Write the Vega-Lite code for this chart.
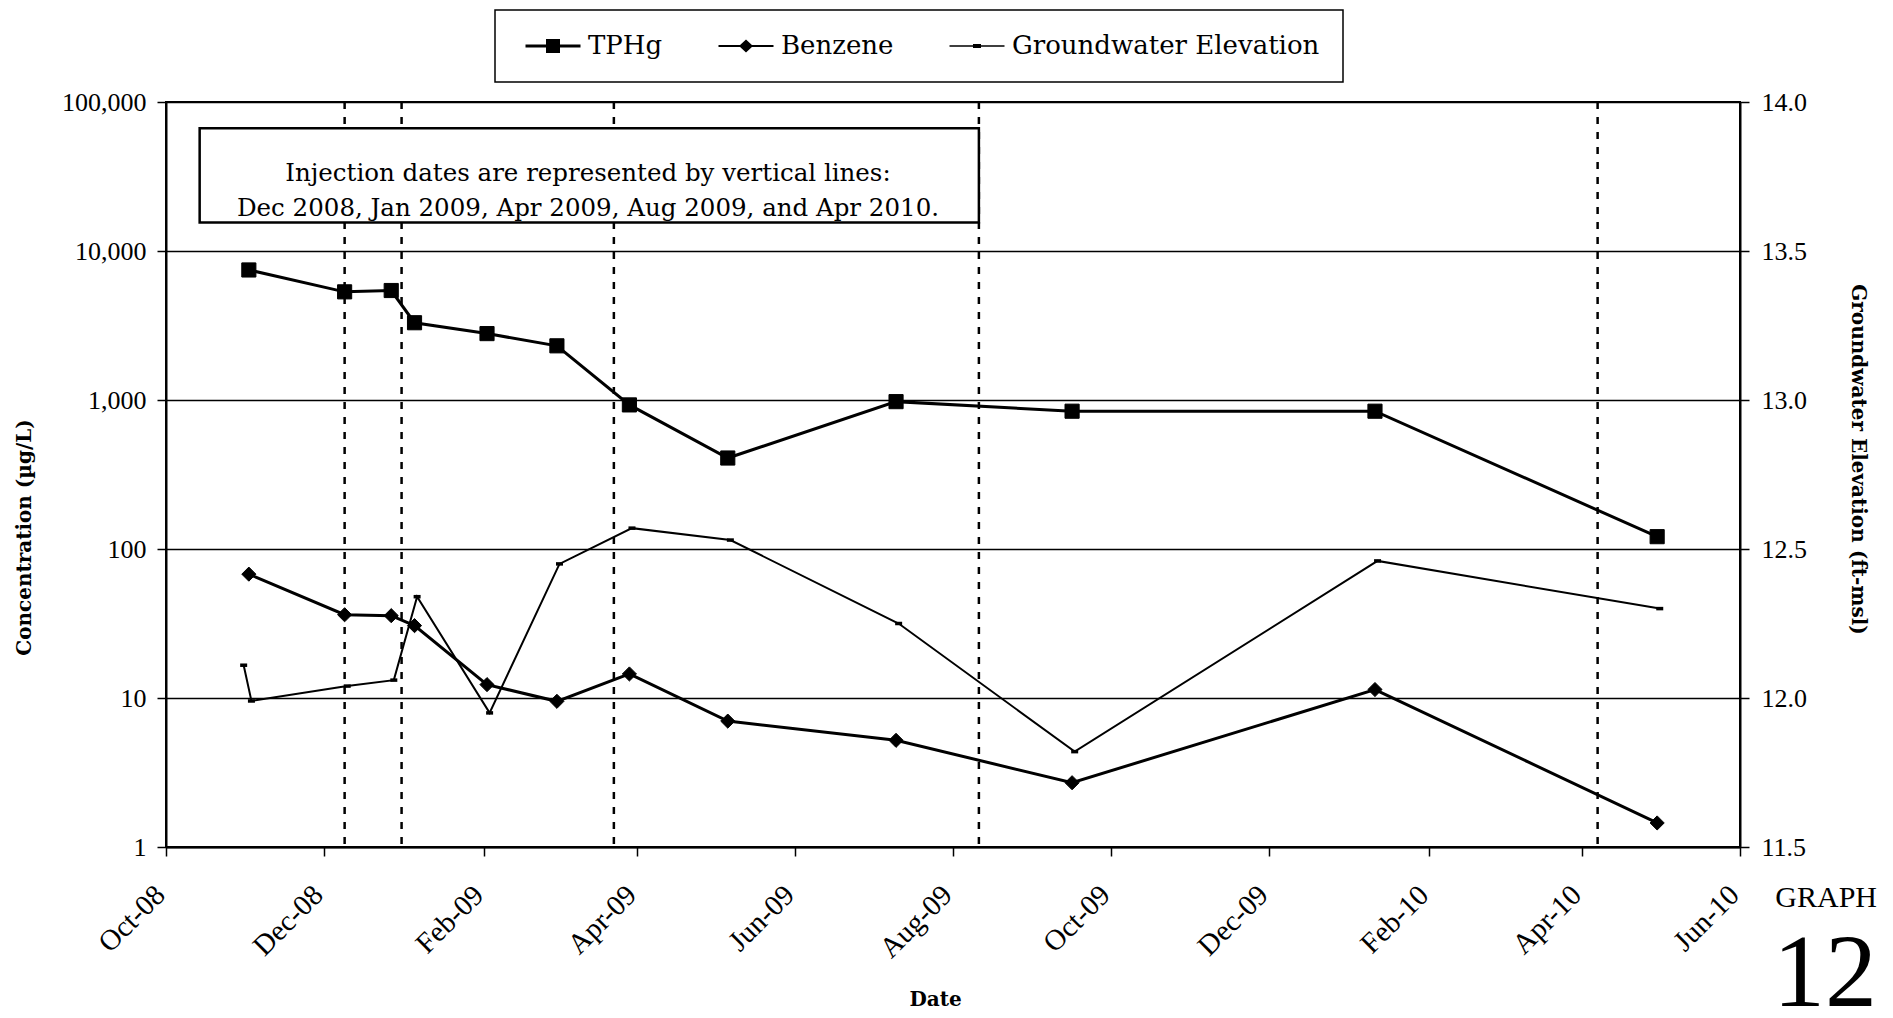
{
  "$schema": "https://vega.github.io/schema/vega-lite/v6.json",
  "width": 1574,
  "height": 745,
  "autosize": {"type": "none"},
  "padding": {"left": 166, "top": 102, "right": 153, "bottom": 171},
  "background": "white",
  "title": {
    "text": "GRAPH",
    "subtitle": "12",
    "orient": "bottom",
    "anchor": "end",
    "frame": "bounds",
    "offset": -126,
    "dx": 10,
    "font": "Liberation Serif",
    "fontSize": 30,
    "fontWeight": "normal",
    "color": "black",
    "subtitleFont": "Liberation Serif",
    "subtitleFontSize": 104,
    "subtitleColor": "black",
    "subtitlePadding": 11
  },
  "config": {
    "view": {"stroke": "black", "strokeWidth": 2},
    "axis": {
      "domainColor": "black",
      "domainWidth": 2,
      "tickColor": "black",
      "tickWidth": 1.5,
      "tickSize": 9,
      "labelColor": "black",
      "labelFont": "Liberation Serif",
      "labelFontSize": 26,
      "titleColor": "black",
      "titleFont": "DejaVu Serif",
      "titleFontSize": 20,
      "titleFontWeight": "bold",
      "gridColor": "black",
      "gridWidth": 1.5,
      "gridOpacity": 1
    },
    "axisX": {
      "labelExpr": "utcFormat(datum.value, '%b-%y')",
      "labelFontSize": 29,
      "labelAngle": -45,
      "labelAlign": "right",
      "labelBaseline": "middle",
      "labelPadding": 34,
      "labelOffset": -6,
      "labelFlush": false,
      "labelOverlap": false,
      "grid": false,
      "titleX": 769,
      "titleY": 142
    },
    "legend": {"strokeWidth": 1.5}
  },
  "datasets": {
    "conc": [
      {"date": "2008-11-02", "series": "TPHg", "value": 7460},
      {"date": "2008-12-09", "series": "TPHg", "value": 5320},
      {"date": "2008-12-27", "series": "TPHg", "value": 5430},
      {"date": "2009-01-05", "series": "TPHg", "value": 3300},
      {"date": "2009-02-02", "series": "TPHg", "value": 2790},
      {"date": "2009-03-01", "series": "TPHg", "value": 2310},
      {"date": "2009-03-29", "series": "TPHg", "value": 927},
      {"date": "2009-05-06", "series": "TPHg", "value": 408},
      {"date": "2009-07-10", "series": "TPHg", "value": 975},
      {"date": "2009-09-16", "series": "TPHg", "value": 841},
      {"date": "2010-01-11", "series": "TPHg", "value": 841},
      {"date": "2010-04-30", "series": "TPHg", "value": 121},
      {"date": "2008-11-02", "series": "Benzene", "value": 67.8},
      {"date": "2008-12-09", "series": "Benzene", "value": 36.2},
      {"date": "2008-12-27", "series": "Benzene", "value": 35.7},
      {"date": "2009-01-05", "series": "Benzene", "value": 30.6},
      {"date": "2009-02-02", "series": "Benzene", "value": 12.3},
      {"date": "2009-03-01", "series": "Benzene", "value": 9.5},
      {"date": "2009-03-29", "series": "Benzene", "value": 14.5},
      {"date": "2009-05-06", "series": "Benzene", "value": 7.0},
      {"date": "2009-07-10", "series": "Benzene", "value": 5.2},
      {"date": "2009-09-16", "series": "Benzene", "value": 2.7},
      {"date": "2010-01-11", "series": "Benzene", "value": 11.4},
      {"date": "2010-04-30", "series": "Benzene", "value": 1.45}
    ],
    "gw": [
      {"date": "2008-10-31", "elev": 12.11},
      {"date": "2008-11-03", "elev": 11.99},
      {"date": "2008-12-10", "elev": 12.04},
      {"date": "2008-12-28", "elev": 12.06},
      {"date": "2009-01-06", "elev": 12.34},
      {"date": "2009-02-03", "elev": 11.95},
      {"date": "2009-03-02", "elev": 12.45},
      {"date": "2009-03-30", "elev": 12.57},
      {"date": "2009-05-07", "elev": 12.53},
      {"date": "2009-07-11", "elev": 12.25},
      {"date": "2009-09-17", "elev": 11.82},
      {"date": "2010-01-12", "elev": 12.46},
      {"date": "2010-05-01", "elev": 12.30}
    ],
    "injections": [
      {"date": "2008-12-09"},
      {"date": "2008-12-31"},
      {"date": "2009-03-23"},
      {"date": "2009-08-11"},
      {"date": "2010-04-07"}
    ],
    "note": [
      {
        "start": "2008-10-14",
        "end": "2009-08-11",
        "mid": "2009-03-13",
        "top": 66700,
        "bottom": 15530,
        "ymid": 32950,
        "label": [
          "Injection dates are represented by vertical lines:",
          "Dec 2008, Jan 2009, Apr 2009, Aug 2009, and Apr 2010."
        ]
      }
    ],
    "legend": [
      {"series": "TPHg"},
      {"series": "Benzene"},
      {"series": "Groundwater Elevation"}
    ]
  },
  "layer": [
    {
      "layer": [
        {
          "data": {"name": "injections"},
          "mark": {"type": "rule", "color": "black", "strokeWidth": 2.5, "strokeDash": [7, 8]},
          "encoding": {
            "x": {
              "field": "date",
              "type": "temporal",
              "title": "Date",
              "scale": {"type": "utc", "nice": false, "domain": [{"year": 2008, "month": 10, "date": 1, "utc": true}, {"year": 2010, "month": 6, "date": 1, "utc": true}]},
              "axis": {"values": [
                {"year": 2008, "month": 10, "date": 1, "utc": true},
                {"year": 2008, "month": 12, "date": 1, "utc": true},
                {"year": 2009, "month": 2, "date": 1, "utc": true},
                {"year": 2009, "month": 4, "date": 1, "utc": true},
                {"year": 2009, "month": 6, "date": 1, "utc": true},
                {"year": 2009, "month": 8, "date": 1, "utc": true},
                {"year": 2009, "month": 10, "date": 1, "utc": true},
                {"year": 2009, "month": 12, "date": 1, "utc": true},
                {"year": 2010, "month": 2, "date": 1, "utc": true},
                {"year": 2010, "month": 4, "date": 1, "utc": true},
                {"year": 2010, "month": 6, "date": 1, "utc": true}
              ]}
            }
          }
        },
        {
          "data": {"name": "note"},
          "mark": {"type": "rect", "fill": "white", "stroke": "black", "strokeWidth": 2.5},
          "encoding": {
            "x": {
              "field": "start",
              "type": "temporal",
              "title": "Date",
              "scale": {"type": "utc", "nice": false, "domain": [{"year": 2008, "month": 10, "date": 1, "utc": true}, {"year": 2010, "month": 6, "date": 1, "utc": true}]},
              "axis": {"values": [
                {"year": 2008, "month": 10, "date": 1, "utc": true},
                {"year": 2008, "month": 12, "date": 1, "utc": true},
                {"year": 2009, "month": 2, "date": 1, "utc": true},
                {"year": 2009, "month": 4, "date": 1, "utc": true},
                {"year": 2009, "month": 6, "date": 1, "utc": true},
                {"year": 2009, "month": 8, "date": 1, "utc": true},
                {"year": 2009, "month": 10, "date": 1, "utc": true},
                {"year": 2009, "month": 12, "date": 1, "utc": true},
                {"year": 2010, "month": 2, "date": 1, "utc": true},
                {"year": 2010, "month": 4, "date": 1, "utc": true},
                {"year": 2010, "month": 6, "date": 1, "utc": true}
              ]}
            },
            "x2": {"field": "end"},
            "y": {
              "field": "top",
              "type": "quantitative",
              "title": "Concentration (µg/L)",
              "scale": {"type": "log", "domain": [1, 100000], "nice": false},
              "axis": {
                "orient": "left",
                "values": [1, 10, 100, 1000, 10000, 100000],
                "format": ",",
                "grid": true,
                "labelPadding": 11,
                "titleX": -132,
                "titleY": 435
              }
            },
            "y2": {"field": "bottom"}
          }
        },
        {
          "data": {"name": "note"},
          "mark": {"type": "text", "font": "DejaVu Serif", "fontSize": 24.5, "lineHeight": 35, "align": "center", "baseline": "middle", "color": "black"},
          "encoding": {
            "x": {
              "field": "mid",
              "type": "temporal",
              "title": "Date",
              "scale": {"type": "utc", "nice": false, "domain": [{"year": 2008, "month": 10, "date": 1, "utc": true}, {"year": 2010, "month": 6, "date": 1, "utc": true}]},
              "axis": {"values": [
                {"year": 2008, "month": 10, "date": 1, "utc": true},
                {"year": 2008, "month": 12, "date": 1, "utc": true},
                {"year": 2009, "month": 2, "date": 1, "utc": true},
                {"year": 2009, "month": 4, "date": 1, "utc": true},
                {"year": 2009, "month": 6, "date": 1, "utc": true},
                {"year": 2009, "month": 8, "date": 1, "utc": true},
                {"year": 2009, "month": 10, "date": 1, "utc": true},
                {"year": 2009, "month": 12, "date": 1, "utc": true},
                {"year": 2010, "month": 2, "date": 1, "utc": true},
                {"year": 2010, "month": 4, "date": 1, "utc": true},
                {"year": 2010, "month": 6, "date": 1, "utc": true}
              ]}
            },
            "y": {"field": "ymid", "type": "quantitative", "title": "Concentration (µg/L)", "scale": {"type": "log", "domain": [1, 100000], "nice": false}},
            "text": {"field": "label"}
          }
        },
        {
          "data": {"name": "conc"},
          "mark": {"type": "line", "color": "black", "strokeWidth": 3},
          "encoding": {
            "x": {
              "field": "date",
              "type": "temporal",
              "title": "Date",
              "scale": {"type": "utc", "nice": false, "domain": [{"year": 2008, "month": 10, "date": 1, "utc": true}, {"year": 2010, "month": 6, "date": 1, "utc": true}]},
              "axis": {"values": [
                {"year": 2008, "month": 10, "date": 1, "utc": true},
                {"year": 2008, "month": 12, "date": 1, "utc": true},
                {"year": 2009, "month": 2, "date": 1, "utc": true},
                {"year": 2009, "month": 4, "date": 1, "utc": true},
                {"year": 2009, "month": 6, "date": 1, "utc": true},
                {"year": 2009, "month": 8, "date": 1, "utc": true},
                {"year": 2009, "month": 10, "date": 1, "utc": true},
                {"year": 2009, "month": 12, "date": 1, "utc": true},
                {"year": 2010, "month": 2, "date": 1, "utc": true},
                {"year": 2010, "month": 4, "date": 1, "utc": true},
                {"year": 2010, "month": 6, "date": 1, "utc": true}
              ]}
            },
            "y": {"field": "value", "type": "quantitative", "title": "Concentration (µg/L)", "scale": {"type": "log", "domain": [1, 100000], "nice": false}},
            "detail": {"field": "series"}
          }
        },
        {
          "data": {"name": "conc"},
          "mark": {"type": "point", "filled": true, "color": "black", "stroke": "black", "strokeWidth": 1, "size": 200, "opacity": 1},
          "encoding": {
            "x": {
              "field": "date",
              "type": "temporal",
              "title": "Date",
              "scale": {"type": "utc", "nice": false, "domain": [{"year": 2008, "month": 10, "date": 1, "utc": true}, {"year": 2010, "month": 6, "date": 1, "utc": true}]},
              "axis": {"values": [
                {"year": 2008, "month": 10, "date": 1, "utc": true},
                {"year": 2008, "month": 12, "date": 1, "utc": true},
                {"year": 2009, "month": 2, "date": 1, "utc": true},
                {"year": 2009, "month": 4, "date": 1, "utc": true},
                {"year": 2009, "month": 6, "date": 1, "utc": true},
                {"year": 2009, "month": 8, "date": 1, "utc": true},
                {"year": 2009, "month": 10, "date": 1, "utc": true},
                {"year": 2009, "month": 12, "date": 1, "utc": true},
                {"year": 2010, "month": 2, "date": 1, "utc": true},
                {"year": 2010, "month": 4, "date": 1, "utc": true},
                {"year": 2010, "month": 6, "date": 1, "utc": true}
              ]}
            },
            "y": {"field": "value", "type": "quantitative", "title": "Concentration (µg/L)", "scale": {"type": "log", "domain": [1, 100000], "nice": false}},
            "shape": {
              "field": "series",
              "type": "nominal",
              "scale": {"domain": ["TPHg", "Benzene"], "range": ["square", "diamond"]},
              "legend": null
            }
          }
        }
      ]
    },
    {
      "data": {"name": "gw"},
      "encoding": {
        "x": {
          "field": "date",
          "type": "temporal",
          "title": "Date",
          "scale": {"type": "utc", "nice": false, "domain": [{"year": 2008, "month": 10, "date": 1, "utc": true}, {"year": 2010, "month": 6, "date": 1, "utc": true}]},
          "axis": {"values": [
            {"year": 2008, "month": 10, "date": 1, "utc": true},
            {"year": 2008, "month": 12, "date": 1, "utc": true},
            {"year": 2009, "month": 2, "date": 1, "utc": true},
            {"year": 2009, "month": 4, "date": 1, "utc": true},
            {"year": 2009, "month": 6, "date": 1, "utc": true},
            {"year": 2009, "month": 8, "date": 1, "utc": true},
            {"year": 2009, "month": 10, "date": 1, "utc": true},
            {"year": 2009, "month": 12, "date": 1, "utc": true},
            {"year": 2010, "month": 2, "date": 1, "utc": true},
            {"year": 2010, "month": 4, "date": 1, "utc": true},
            {"year": 2010, "month": 6, "date": 1, "utc": true}
          ]}
        },
        "y": {
          "field": "elev",
          "type": "quantitative",
          "title": "Groundwater Elevation (ft-msl)",
          "scale": {"type": "linear", "domain": [11.5, 14.0], "nice": false, "zero": false},
          "axis": {
            "orient": "right",
            "values": [11.5, 12.0, 12.5, 13.0, 13.5, 14.0],
            "format": ".1f",
            "grid": false,
            "labelPadding": 12,
            "titleX": 107,
            "titleY": 357
          }
        }
      },
      "layer": [
        {"mark": {"type": "line", "color": "black", "strokeWidth": 2}},
        {"mark": {"type": "point", "shape": "M-1,-0.5H1V0.5H-1Z", "size": 49, "filled": true, "color": "black", "opacity": 1}}
      ]
    },
    {
      "data": {"name": "legend"},
      "transform": [{"filter": "datum.series === 'none'"}],
      "mark": {"type": "point", "filled": true, "color": "black"},
      "encoding": {
        "shape": {
          "field": "series",
          "type": "nominal",
          "scale": {
            "domain": ["TPHg", "Benzene", "Groundwater Elevation"],
            "range": [
              "M-1.1,-0.3H9.9V0.3H-1.1Z M3,-1.4H5.8V1.4H3Z",
              "M-1.1,-0.2H9.9V0.2H-1.1Z M3,0L4.4,-1.3L5.8,0L4.4,1.3Z",
              "M-1.1,-0.15H9.9V0.15H-1.1Z M3.6,-0.4H5.2V0.4H3.6Z"
            ]
          },
          "legend": {
            "orient": "none",
            "legendX": 329,
            "legendY": -92,
            "direction": "horizontal",
            "columns": 3,
            "title": null,
            "symbolSize": 100,
            "symbolStrokeWidth": 0,
            "symbolFillColor": "black",
            "symbolOpacity": 1,
            "labelFont": "DejaVu Serif",
            "labelFontSize": 26,
            "labelColor": "black",
            "labelLimit": 600,
            "labelOffset": 44,
            "columnPadding": 48,
            "padding": 23,
            "strokeColor": "black",
            "fillColor": "white",
            "encode": {
              "symbols": {
                "update": {
                  "fill": {"value": "black"},
                  "opacity": {"value": 1}
                }
              }
            }
          }
        }
      }
    }
  ],
  "resolve": {"scale": {"y": "independent", "shape": "independent"}}
}
